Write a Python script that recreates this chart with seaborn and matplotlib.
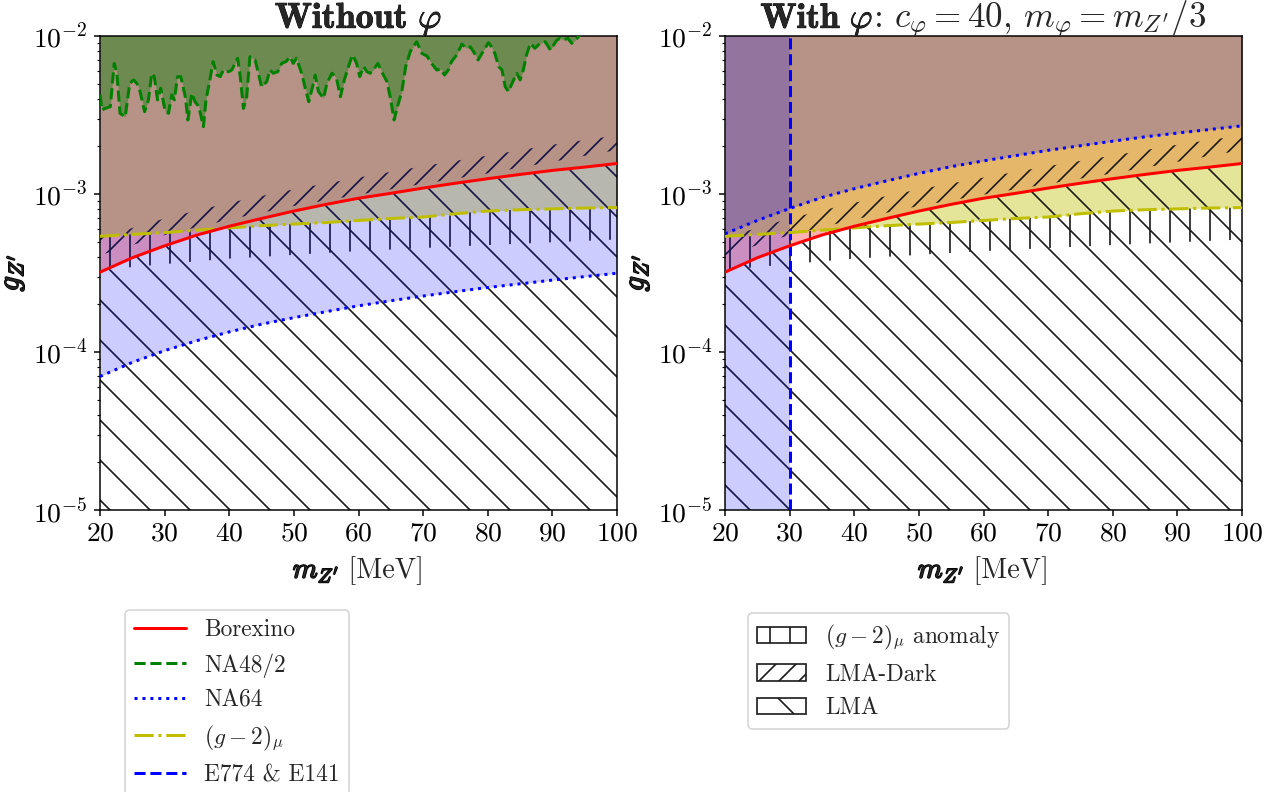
import matplotlib
matplotlib.use("Agg")
import matplotlib.pyplot as plt
import matplotlib.patheffects as pe
from matplotlib.patches import Patch
from matplotlib.lines import Line2D
import seaborn as sns

# Z' mass grid [MeV]
m = [20, 25, 30, 35, 40, 45, 50, 55, 60, 65, 70, 75, 80, 85, 90, 95, 100]

# limits on g_Z'
borexino = [3.2e-4, 3.95e-4, 4.7e-4, 5.5e-4, 6.25e-4, 7.0e-4, 7.8e-4, 8.6e-4, 9.4e-4,
            1.01e-3, 1.09e-3, 1.17e-3, 1.25e-3, 1.33e-3, 1.41e-3, 1.48e-3, 1.56e-3]
na64_without = [7.0e-5, 8.6e-5, 1.02e-4, 1.18e-4, 1.34e-4, 1.5e-4, 1.65e-4, 1.8e-4, 1.96e-4,
                2.11e-4, 2.26e-4, 2.41e-4, 2.56e-4, 2.7e-4, 2.85e-4, 3.0e-4, 3.15e-4]
na64_with = [5.6e-4, 6.8e-4, 8.1e-4, 9.5e-4, 1.08e-3, 1.21e-3, 1.35e-3, 1.49e-3, 1.62e-3,
             1.75e-3, 1.89e-3, 2.02e-3, 2.16e-3, 2.3e-3, 2.43e-3, 2.56e-3, 2.7e-3]
g2_limit = [5.4e-4, 5.55e-4, 5.7e-4, 5.9e-4, 6.1e-4, 6.3e-4, 6.45e-4, 6.6e-4, 6.8e-4,
            7.0e-4, 7.15e-4, 7.5e-4, 7.8e-4, 7.95e-4, 8.05e-4, 8.15e-4, 8.2e-4]
g2_anomaly_low = [3.3e-4, 3.45e-4, 3.6e-4, 3.75e-4, 3.9e-4, 4.0e-4, 4.12e-4, 4.24e-4, 4.35e-4,
                  4.45e-4, 4.55e-4, 4.65e-4, 4.75e-4, 4.85e-4, 4.95e-4, 5.05e-4, 5.15e-4]

# LMA-Dark band
lmad_m = [20, 30, 40, 50, 60, 70, 80, 90, 100]
lmad_low = [4.1e-4, 5.5e-4, 6.9e-4, 8.4e-4, 9.9e-4, 1.16e-3, 1.35e-3, 1.6e-3, 1.9e-3]
lmad_high = [5.3e-4, 7.0e-4, 8.8e-4, 1.07e-3, 1.27e-3, 1.5e-3, 1.75e-3, 2.05e-3, 2.35e-3]

# NA48/2 (noisy limit)
na48_m = [20.0, 20.3, 20.8, 21.6, 22.2, 22.6, 23.1, 23.9, 24.6, 25.2, 25.7, 26.2, 26.9, 27.5,
          28.0, 28.4, 28.9, 29.4, 30.1, 30.6, 31.1, 31.5, 32.0, 32.5, 33.2, 33.6, 34.2, 34.7,
          35.3, 36.0, 36.4, 37.0, 37.5, 38.1, 38.6, 39.1, 39.9, 40.4, 41.3, 41.7, 42.2, 42.7,
          43.2, 44.0, 44.5, 45.0, 45.8, 46.3, 46.8, 47.5, 48.1, 48.8, 49.4, 49.9, 50.4, 51.2,
          51.7, 52.3, 52.9, 53.3, 53.8, 54.6, 55.1, 55.9, 56.6, 57.2, 57.8, 58.7, 59.1, 59.7,
          60.2, 60.8, 61.3, 61.8, 62.3, 63.0, 63.6, 64.4, 64.9, 65.5, 66.1, 66.7, 67.3, 68.0,
          69.0, 69.8, 70.6, 71.3, 72.1, 72.8, 73.3, 73.9, 74.4, 75.2, 76.0, 76.7, 77.3, 77.8,
          78.5, 79.1, 80.1, 80.4, 81.1, 81.7, 82.2, 82.7, 83.2, 84.0, 84.5, 85.0, 85.5, 86.0,
          86.6, 87.3, 88.1, 88.9, 89.7, 90.2, 90.7, 91.2, 91.7, 92.4, 93.0, 93.8, 94.3, 96.0,
          100.0]
na48_g = [4.24e-3, 3.40e-3, 3.48e-3, 3.57e-3, 6.71e-3, 5.81e-3, 3.24e-3, 3.08e-3, 5.01e-3,
          5.27e-3, 5.01e-3, 4.45e-3, 3.32e-3, 3.94e-3, 5.81e-3, 5.53e-3, 3.94e-3, 4.67e-3,
          3.32e-3, 3.24e-3, 4.24e-3, 3.94e-3, 5.53e-3, 5.53e-3, 4.13e-3, 2.94e-3, 4.34e-3,
          3.84e-3, 3.57e-3, 2.67e-3, 3.94e-3, 5.27e-3, 6.89e-3, 5.66e-3, 5.53e-3, 6.10e-3,
          5.94e-3, 6.10e-3, 7.23e-3, 5.53e-3, 3.48e-3, 4.13e-3, 7.40e-3, 7.05e-3, 5.81e-3,
          4.78e-3, 5.14e-3, 6.10e-3, 5.81e-3, 5.94e-3, 6.71e-3, 6.89e-3, 7.40e-3, 6.71e-3,
          7.23e-3, 5.81e-3, 4.78e-3, 3.84e-3, 4.78e-3, 5.66e-3, 4.45e-3, 4.04e-3, 5.01e-3,
          5.81e-3, 5.40e-3, 4.13e-3, 5.27e-3, 6.89e-3, 7.59e-3, 6.71e-3, 5.53e-3, 6.40e-3,
          5.94e-3, 5.81e-3, 6.10e-3, 6.71e-3, 5.94e-3, 5.14e-3, 4.13e-3, 2.94e-3, 3.66e-3,
          4.45e-3, 6.40e-3, 7.96e-3, 9.20e-3, 7.76e-3, 7.46e-3, 6.71e-3, 6.10e-3, 6.15e-3,
          5.66e-3, 6.10e-3, 6.89e-3, 7.59e-3, 8.89e-3, 8.36e-3, 8.55e-3, 7.96e-3, 7.05e-3,
          7.76e-3, 9.08e-3, 8.77e-3, 7.76e-3, 6.40e-3, 6.10e-3, 4.78e-3, 4.45e-3, 5.27e-3,
          5.81e-3, 5.27e-3, 6.10e-3, 7.59e-3, 8.99e-3, 8.36e-3, 8.99e-3, 9.20e-3, 8.15e-3,
          8.77e-3, 9.44e-3, 9.66e-3, 9.44e-3, 9.66e-3, 8.99e-3, 9.66e-3, 1.02e-2, 1.1e-2,
          1.2e-2]

e774_mass = 30  # E774 & E141 exclude m_Z' below this (with phi)

g_min, g_max = 1e-5, 1e-2
m_min, m_max = 20, 100

RED, GREEN, BLUE, YEL = "#ff0000", "#008000", "#0000ff", "#bfbf00"
LW = 1.8

sns.set_theme(style="ticks")
plt.rcParams.update({
    "font.family": "serif",
    "font.serif": ["cmr10"],
    "mathtext.fontset": "cm",
    "axes.formatter.use_mathtext": True,
    "axes.unicode_minus": True,
    "font.size": 16,
    "axes.linewidth": 0.9,
    "axes.edgecolor": "black",
    "xtick.color": "black",
    "ytick.color": "black",
    "xtick.major.size": 3.8,
    "ytick.major.size": 3.8,
    "xtick.minor.size": 2.0,
    "ytick.minor.size": 2.0,
    "xtick.major.width": 0.9,
    "ytick.major.width": 0.9,
    "xtick.minor.width": 0.7,
    "ytick.minor.width": 0.7,
    "xtick.labelsize": 16.5,
    "ytick.labelsize": 16.5,
    "hatch.linewidth": 1.0,
})

fig, axes = plt.subplots(1, 2, figsize=(10.65, 6.6), dpi=120)
fig.subplots_adjust(left=100 / 1278, right=1242 / 1278, top=1 - 36 / 792,
                    bottom=1 - 510 / 792, wspace=108 / 517)

label_stroke = [pe.withStroke(linewidth=1.0, foreground="black")]
title_stroke = [pe.withStroke(linewidth=0.5, foreground="black")]


def bold_then_regular(ax, y, bold, regular, size, stroke):
    # a bold (stroked) piece followed by a regular piece, centred on the axes
    tb = ax.text(0, y, bold, transform=ax.transAxes, fontsize=size, va="baseline",
                 ha="left", path_effects=stroke)
    tr = ax.text(0, y, regular, transform=ax.transAxes, fontsize=size, va="baseline",
                 ha="left")
    r = fig.canvas.get_renderer()
    wb = tb.get_window_extent(r).width
    wr = tr.get_window_extent(r).width
    axw = ax.get_window_extent(r).width
    x0 = 0.5 - (wb + wr) / 2 / axw
    tb.set_x(x0)
    tr.set_x(x0 + wb / axw)


for i, ax in enumerate(axes):
    na64 = na64_without if i == 0 else na64_with
    # excluded regions
    ax.fill_between(m, borexino, 1, color=RED, alpha=0.3, lw=0, zorder=1)
    ax.fill_between(m, g2_limit, 1, color=YEL, alpha=0.4, lw=0, zorder=1.1)
    # hatched preferred regions
    ax.fill_between(m, g2_anomaly_low, g2_limit, facecolor="none", edgecolor="k",
                    hatch="|", lw=0, zorder=1.2)
    ax.fill_between(lmad_m, lmad_low, lmad_high, facecolor="none", edgecolor="k",
                    hatch="//", lw=0, zorder=1.2)
    ax.fill_between(m, 1e-7, borexino, facecolor="none", edgecolor="k",
                    hatch="\\", lw=0, zorder=1.2)
    ax.fill_between(m, na64, 1, color=BLUE, alpha=0.2, lw=0, zorder=1.3)
    if i == 0:
        ax.fill_between(na48_m, na48_g, 1, color=GREEN, alpha=0.4, lw=0, zorder=1.4)
        sns.lineplot(x=na48_m, y=na48_g, ax=ax, color=GREEN, linestyle="--", lw=LW, zorder=3)
    else:
        ax.axvspan(m_min, e774_mass, color=BLUE, alpha=0.2, lw=0, zorder=1.3)
        ax.axvline(e774_mass, color=BLUE, linestyle="--", lw=LW, zorder=3)
    sns.lineplot(x=m, y=g2_limit, ax=ax, color=YEL, linestyle="-.", lw=LW, zorder=3)
    sns.lineplot(x=m, y=na64, ax=ax, color=BLUE, linestyle=":", lw=LW, zorder=3)
    sns.lineplot(x=m, y=borexino, ax=ax, color=RED, linestyle="-", lw=LW, zorder=3.1)

    ax.set_yscale("log")
    ax.set_xlim(m_min, m_max)
    ax.set_ylim(g_min, g_max)
    ax.set_xticks(range(20, 101, 10))
    ax.set_xlabel("")
    ax.set_ylabel(r"$g_{Z^\prime}$", fontsize=18, labelpad=4, path_effects=label_stroke)
    bold_then_regular(ax, -0.143, r"$m_{Z^\prime}$", r" [MeV]", 17, label_stroke)

bold_then_regular(axes[0], 1.017, r"$\mathbf{Without}\ \varphi$", "", 21.5, title_stroke)
bold_then_regular(axes[1], 1.017, r"$\mathbf{With}\ \varphi$",
                  r": $c_\varphi = 40$, $m_\varphi = m_{Z^\prime}/3$", 21, title_stroke)

line_handles = [
    Line2D([], [], color=RED, ls="-", lw=LW, label="Borexino"),
    Line2D([], [], color=GREEN, ls="--", lw=LW, label="NA48/2"),
    Line2D([], [], color=BLUE, ls=":", lw=LW, label="NA64"),
    Line2D([], [], color=YEL, ls="-.", lw=LW, label=r"$(g-2)_\mu$"),
    Line2D([], [], color=BLUE, ls="--", lw=LW, label="E774 & E141"),
]
hatch_handles = [
    Patch(facecolor="white", edgecolor="k", hatch="|", lw=1.0, label=r"$(g-2)_\mu$ anomaly"),
    Patch(facecolor="white", edgecolor="k", hatch="//", lw=1.0, label="LMA-Dark"),
    Patch(facecolor="white", edgecolor="k", hatch="\\", lw=1.0, label="LMA"),
]
fig.legend(handles=line_handles, loc="upper left", bbox_to_anchor=(125 / 1278, 1 - 610 / 792),
           borderaxespad=0, fontsize=14, handlelength=2.2, labelspacing=0.5)
fig.legend(handles=hatch_handles, loc="upper left", bbox_to_anchor=(748 / 1278, 1 - 613 / 792),
           borderaxespad=0, fontsize=14, handlelength=2.1, labelspacing=0.5)

fig.savefig("out.png", dpi=120)
